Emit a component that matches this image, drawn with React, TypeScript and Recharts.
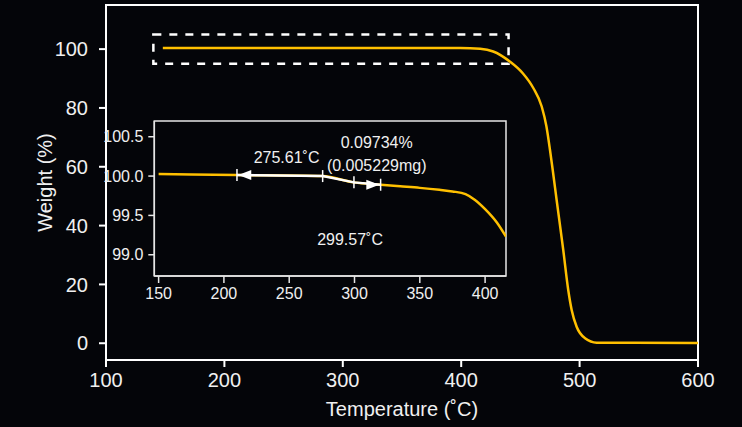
import React from 'react';
import { LineChart, Line, XAxis, YAxis, ReferenceArea, ReferenceDot } from 'recharts';

const FONT = "'Liberation Sans', Arial, sans-serif";
const BG = '#040509';
const TXT = '#f0f0f0';
const GOLD = '#FFC000';

// full TGA curve (main plot)
const mainTemp = [148, 200, 300, 399, 416, 427, 441, 452, 461, 468, 472, 475, 477.3, 480.6, 486.2, 490.4, 493.3, 497.5, 504.6, 514.4, 600];
const mainWeight = [100.4, 100.4, 100.4, 100.35, 100.1, 99.2, 95.8, 91.8, 86.7, 80.5, 73.7, 65.7, 58.9, 48.7, 31.7, 18.1, 11.3, 5.6, 1.7, 0.2, 0.1];

// zoomed curve (inset)
const insetTemp = [150, 175, 210, 275.61, 299.57, 320, 335, 350, 365, 375, 385, 392, 400, 409, 416];
const insetWeight = [100.025, 100.02, 100.013, 100.0, 99.92, 99.89, 99.87, 99.85, 99.825, 99.805, 99.77, 99.7, 99.58, 99.41, 99.23];

const mainXTicks = [100, 200, 300, 400, 500, 600];
const mainYTicks = [0, 20, 40, 60, 80, 100];
const insetXTicks = [150, 200, 250, 300, 350, 400];
const insetYTicks = [99, 99.5, 100, 100.5];

// step markers on the inset curve
const stepMarks = [210, 275.61, 299.57, 320];
const arrowTips = [211, 319];

const mainRows = mainTemp.map((t, i) => ({ t, w: mainWeight[i] }));
const insetRows = insetTemp.map((t, i) => ({ t, w: insetWeight[i] }));
const weightAt = (t: number) => insetWeight[insetTemp.indexOf(t)];
const stepRows = stepMarks.map((t) => ({ t, w: weightAt(t) }));

const annotations = [
  { t: 248, w: 100.24, text: '275.61˚C' },
  { t: 317, w: 100.43, text: '0.09734%' },
  { t: 317, w: 100.14, text: '(0.005229mg)' },
  { t: 296.6, w: 99.2, text: '299.57˚C' },
];

const YTitle = (props: any) => {
  const vb = props.viewBox;
  const cx = vb.x + 45;
  const cy = vb.y + vb.height / 2;
  return (
    <text x={cx} y={cy} transform={`rotate(-90, ${cx}, ${cy})`} textAnchor="middle" dominantBaseline="central" fill={TXT} fontSize={20} fontFamily={FONT}>
      Weight (%)
    </text>
  );
};

const InsetChart = () => (
  <LineChart width={430} height={195} data={insetRows} margin={{ top: 6, right: 14, bottom: 0, left: 0 }}>
    <XAxis
      type="number"
      dataKey="t"
      domain={[146.7, 416]}
      ticks={insetXTicks}
      allowDataOverflow
      height={34}
      tickSize={7}
      tickMargin={5}
      stroke="#e6e6e6"
      strokeWidth={1.5}
      fontSize={16}
      fontFamily={FONT}
      tick={{ fill: TXT, fontSize: 16, fontFamily: FONT }}
    />
    <YAxis
      type="number"
      domain={[98.73, 100.7]}
      ticks={insetYTicks}
      allowDataOverflow
      width={64.3}
      tickSize={6}
      tickMargin={5}
      stroke="#e6e6e6"
      strokeWidth={1.5}
      fontSize={16}
      fontFamily={FONT}
      tickFormatter={(v: number) => v.toFixed(1)}
      tick={{ fill: TXT, fontSize: 16, fontFamily: FONT }}
    />
    <ReferenceArea x1={146.7} x2={416} y1={98.73} y2={100.7} fill="none" fillOpacity={0} stroke="#e6e6e6" strokeWidth={1.5} />
    <Line type="monotone" dataKey="w" stroke={GOLD} strokeWidth={2.5} dot={false} isAnimationActive={false} />
    <Line data={stepRows} type="linear" dataKey="w" stroke="#fff" strokeWidth={2.5} dot={false} isAnimationActive={false} />
    {stepMarks.map((t) => (
      <ReferenceDot
        key={t}
        x={t}
        y={weightAt(t)}
        shape={(p: any) => <line x1={p.cx} x2={p.cx} y1={p.cy - 6} y2={p.cy + 6} stroke="#fff" strokeWidth={1.5} />}
      />
    ))}
    {arrowTips.map((t, i) => {
      const w = i === 0 ? weightAt(210) : weightAt(320);
      const dir = i === 0 ? 1 : -1;
      return (
        <ReferenceDot
          key={'a' + t}
          x={t}
          y={w}
          shape={(p: any) => (
            <polygon
              points={`${p.cx},${p.cy} ${p.cx + dir * 13},${p.cy - 5} ${p.cx + dir * 13},${p.cy + 5}`}
              fill="#fff"
            />
          )}
        />
      );
    })}
    {annotations.map((a) => (
      <ReferenceDot
        key={a.text}
        x={a.t}
        y={a.w}
        shape={(p: any) => (
          <text x={p.cx} y={p.cy} textAnchor="middle" dominantBaseline="central" fill={TXT} fontSize={16} fontFamily={FONT}>
            {a.text}
          </text>
        )}
      />
    ))}
  </LineChart>
);

export default function App() {
  return (
    <div style={{ position: 'absolute', left: 0, top: 0, width: 742, height: 427, background: BG }}>
      <LineChart width={742} height={427} data={mainRows} margin={{ top: 5, right: 44, bottom: 0, left: 0 }}>
        <XAxis
          type="number"
          dataKey="t"
          domain={[100, 600]}
          ticks={mainXTicks}
          allowDataOverflow
          height={67}
          tickSize={7}
          tickMargin={6}
          stroke="#fff"
          strokeWidth={2}
          fontSize={20}
          fontFamily={FONT}
          tick={{ fill: TXT, fontSize: 20, fontFamily: FONT }}
          label={{ value: 'Temperature (˚C)', position: 'insideBottom', offset: 11, fill: TXT, fontSize: 20, fontFamily: FONT }}
        />
        <YAxis
          type="number"
          domain={[-5.7, 115]}
          ticks={mainYTicks}
          allowDataOverflow
          width={106}
          tickSize={7}
          tickMargin={11}
          stroke="#fff"
          strokeWidth={2}
          fontSize={20}
          fontFamily={FONT}
          tick={{ fill: TXT, fontSize: 20, fontFamily: FONT }}
          label={{ content: YTitle }}
        />
        <ReferenceArea x1={100} x2={600} y1={-5.7} y2={115} fill="none" fillOpacity={0} stroke="#fff" strokeWidth={2} />
        <ReferenceArea x1={140} x2={440} y1={95} y2={105} fill="none" fillOpacity={0} stroke="#fff" strokeWidth={2.5} strokeDasharray="8 8" />
        <Line type="monotone" dataKey="w" stroke={GOLD} strokeWidth={2.5} dot={false} isAnimationActive={false} />
      </LineChart>
      <div style={{ position: 'absolute', left: 90, top: 115 }}>
        <InsetChart />
      </div>
    </div>
  );
}
